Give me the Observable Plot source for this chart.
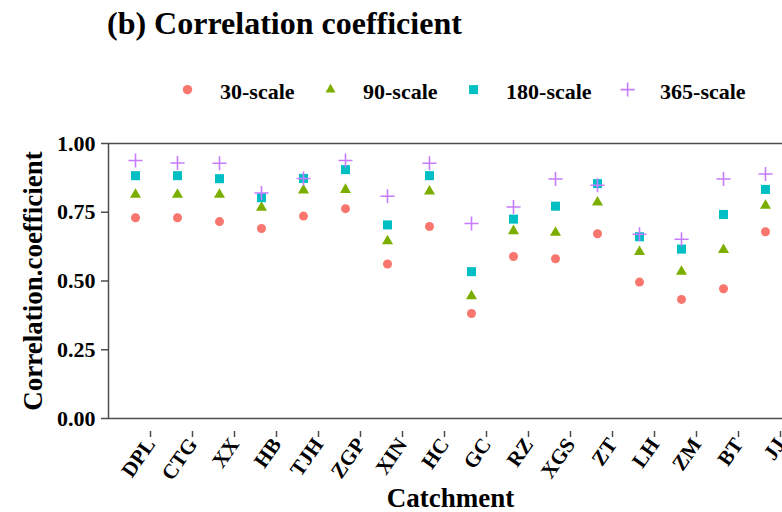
<!DOCTYPE html>
<html><head><meta charset="utf-8">
<script src="https://cdn.jsdelivr.net/npm/d3@7"></script>
<script src="https://cdn.jsdelivr.net/npm/@observablehq/plot@0.6"></script>
<style>
html,body{margin:0;padding:0;background:#fff;overflow:hidden}
#wrap{position:relative;width:782px;height:512px;overflow:hidden;font-family:"Liberation Serif","Times New Roman",serif;font-weight:bold;color:#000;background:#fff}
#title{position:absolute;left:107px;top:7px;font-size:32px;line-height:32px;white-space:nowrap}
#legend{position:absolute;left:0;top:0;width:782px;height:110px}
#chart{position:absolute;left:0;top:100px;width:800px}
#chart svg{max-width:none !important;width:800px;height:412px}
</style></head><body>
<div id="wrap">
  <div id="title">(b) Correlation coefficient</div>
  <svg id="legend" width="782" height="110"></svg>
  <div id="chart"></div>
</div>
<script>
const catchments = ["DPL","CTG","XX","HB","TJH","ZGP","XIN","HC","GC","RZ","XGS","ZT","LH","ZM","BT","JJ"];
const scales = ["30-scale","90-scale","180-scale","365-scale"];
const r30  = [0.730,0.730,0.716,0.691,0.736,0.763,0.562,0.698,0.382,0.589,0.581,0.672,0.496,0.433,0.472,0.679];
const r90  = [0.814,0.814,0.814,0.767,0.830,0.832,0.645,0.826,0.445,0.682,0.676,0.786,0.606,0.534,0.613,0.774];
const r180 = [0.883,0.883,0.872,0.803,0.873,0.905,0.704,0.883,0.534,0.725,0.772,0.854,0.661,0.616,0.742,0.833];
const r365 = [0.938,0.929,0.928,0.820,0.873,0.938,0.808,0.928,0.709,0.769,0.871,0.848,0.670,0.652,0.871,0.889];
const colors = ["#F8766D","#7CAE00","#00BFC4","#C77CFF"];
const symbols = ["circle","triangle","square","plus"];
const yTicks = [0, 0.25, 0.5, 0.75, 1];

const seriesValues = [r30, r90, r180, r365];
const data = [];
scales.forEach((s, i) => catchments.forEach((c, j) => data.push({series: s, catchment: c, value: seriesValues[i][j]})));
const bySeries = s => data.filter(d => d.series === s);

const chart = Plot.plot({
  width: 800, height: 412,
  marginLeft: 108, marginRight: 8, marginTop: 43, marginBottom: 94,
  style: {fontFamily: "'Liberation Serif', 'Times New Roman', serif", fontWeight: "bold", color: "#000", background: "#fff", overflow: "visible", maxWidth: "none"},
  x: {type: "point", domain: catchments, padding: 0.6},
  y: {domain: [0, 1]},
  color: {domain: scales, range: colors},
  symbol: {domain: scales, range: symbols},
  marks: [
    Plot.frame({stroke: "#4d4d4d", strokeWidth: 1.5}),
    Plot.axisY({ticks: yTicks, tickFormat: d3.format(".2f"), tickSize: 7, tickPadding: 6, fontSize: 22, stroke: "#4d4d4d", strokeWidth: 1.5, fill: "#000", label: null}),
    Plot.axisX({tickRotate: -55, tickSize: 6, tickPadding: 3, fontSize: 21, stroke: "#4d4d4d", strokeWidth: 1.5, fill: "#000", label: null, dx: 15, dy: 13}),
    Plot.text(["Correlation.coefficient"], {frameAnchor: "left", textAnchor: "middle", lineAnchor: "middle", rotate: -90, dx: -75, fontSize: 27, fill: "#000"}),
    Plot.text(["Catchment"], {frameAnchor: "bottom", lineAnchor: "middle", dy: 80, fontSize: 27, fill: "#000"}),
    Plot.dot(bySeries("30-scale"), {x: "catchment", y: "value", fill: "series", symbol: "series", r: 4.5}),
    Plot.dot(bySeries("90-scale"), {x: "catchment", y: "value", fill: "series", symbol: "series", r: 4.1}),
    Plot.dot(bySeries("180-scale"), {x: "catchment", y: "value", fill: "series", symbol: "series", r: 5.1}),
    Plot.dot(bySeries("365-scale"), {x: "catchment", y: "value", stroke: "series", symbol: "series", r: 4.6, strokeWidth: 1.6})
  ]
});
document.getElementById("chart").appendChild(chart);

// legend
const leg = d3.select("#legend");
const symTypes = [d3.symbolCircle, d3.symbolTriangle, d3.symbolSquare, d3.symbolPlus];
const symSizes = [Math.PI * 4.7 * 4.7, 43, 81, 66];
let gx = 187.5;
scales.forEach((s, i) => {
  const p = leg.append("path")
    .attr("transform", `translate(${gx},89.6)`)
    .attr("d", d3.symbol().type(symTypes[i]).size(symSizes[i])());
  if (i === 3) p.attr("fill", "none").attr("stroke", colors[i]).attr("stroke-width", 1.6);
  else p.attr("fill", colors[i]);
  const t = leg.append("text").attr("x", gx + 32.5).attr("y", 98.5)
    .attr("font-size", 22).attr("font-weight", "bold")
    .attr("font-family", "'Liberation Serif', 'Times New Roman', serif").text(s);
  gx = gx + 32.5 + t.node().getComputedTextLength() + 36;
});
</script>
</body></html>
